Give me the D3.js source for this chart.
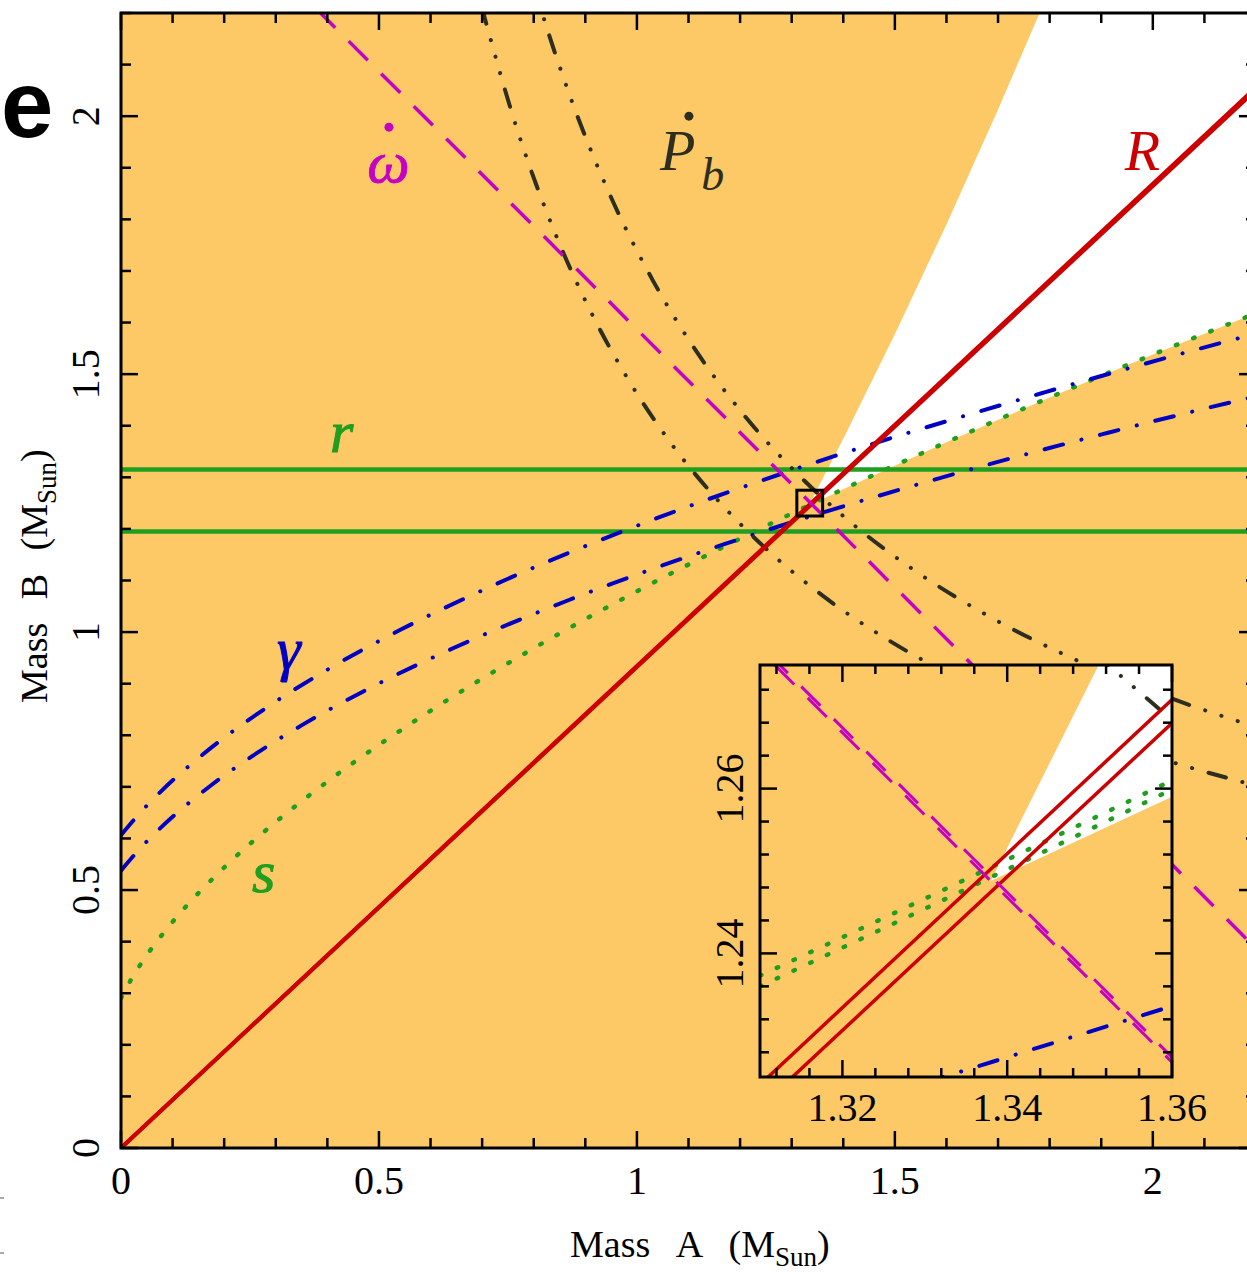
<!DOCTYPE html>
<html>
<head>
<meta charset="utf-8">
<script src="https://cdn.jsdelivr.net/npm/d3@7"></script>
<style>
  body { margin: 0; background: #fff; }
  svg { display: block; background: #fff; }
  text { font-family: "Liberation Serif", "DejaVu Serif", serif; }
  text.panel-letter { font-family: "Liberation Sans", Arial, sans-serif; font-weight: bold; }
</style>
</head>
<body>
<svg id="chart" width="1247" height="1276"></svg>
<script>
// values, masses in solar units (mass A, mass B)
const rLimits = [1.195, 1.315];
const massRatio = [1.0702, 1.0726];
const totalMass = [2.5868, 2.5874];

const gammaHighA = [0, 0.0340, 0.0767, 0.1305, 0.1985, 0.2852, 0.3964, 0.5406, 0.7295, 0.9807, 1.3205, 1.7900, 2.1602, 2.3026];
const gammaHighB = [0.6065, 0.6463, 0.6904, 0.7394, 0.7942, 0.8556, 0.9250, 1.0039, 1.0942, 1.1986, 1.3205, 1.4646, 1.5680, 1.6050];
const gammaLowA = [0, 0.0302, 0.0680, 0.1157, 0.1760, 0.2529, 0.3515, 0.4793, 0.6468, 0.8695, 1.1708, 1.5870, 1.9152, 2.1775, 2.3244];
const gammaLowB = [0.5377, 0.5730, 0.6121, 0.6556, 0.7041, 0.7586, 0.8201, 0.8900, 0.9701, 1.0627, 1.1708, 1.2985, 1.3869, 1.4517, 1.4861];

const shapiroA = [0, 0.005, 0.02, 0.05, 0.1, 0.2, 0.3, 0.4, 0.6, 0.8, 1.0, 1.2, 1.4, 1.6, 1.8, 2.0, 2.2, 2.3, 2.4];
const shapiroB = [0.2906, 0.3000, 0.3272, 0.3738, 0.4383, 0.5437, 0.6319, 0.7101, 0.8475, 0.9687, 1.0791, 1.1810, 1.2771, 1.3679, 1.4547, 1.5379, 1.6180, 1.6570, 1.6952];

const pbdotLowA = [0.6988, 0.7678, 0.8382, 0.9112, 0.9879, 1.0696, 1.1579, 1.2544, 1.3613, 1.4818, 1.6199, 1.7811, 1.9743, 2.2130];
const pbdotLowB = [2.2130, 1.9743, 1.7811, 1.6199, 1.4818, 1.3613, 1.2544, 1.1579, 1.0696, 0.9879, 0.9112, 0.8382, 0.7678, 0.6988];
const pbdotHighA = [0.7404, 0.8152, 0.8719, 0.9496, 1.0308, 1.1167, 1.2088, 1.3089, 1.4191, 1.5421, 1.6818, 1.8434, 2.0345, 2.2039, 2.3332];
const pbdotHighB = [2.4789, 2.2039, 2.0345, 1.8434, 1.6818, 1.5421, 1.4191, 1.3089, 1.2088, 1.1167, 1.0308, 0.9496, 0.8719, 0.8152, 0.7777];

// edge of the white (allowed) wedge, upper-left side
const wedgeEdgeA = [1.3333, 1.4, 1.5, 1.6, 1.7, 1.8];
const wedgeEdgeB = [1.2455, 1.3748, 1.5773, 1.7901, 2.0128, 2.2452];

// inset
const insetShapiroA = [1.31, 1.335, 1.36];
const insetShapiroHighB = [1.2373, 1.2490, 1.2610];
const insetShapiroLowB = [1.2360, 1.2478, 1.2599];
const insetGammaA = [1.33, 1.36];
const insetGammaB = [1.2243, 1.2336];
const insetPbdotA = [1.3490, 1.3620];
const insetPbdotB = [1.2778, 1.2666];
const insetWedgeA = [1.3380, 1.3514, 1.3650, 1.3650, 1.3600];
const insetWedgeB = [1.2488, 1.2756, 1.2756, 1.2590, 1.2590];

const xTickLabels = [0, 0.5, 1, 1.5, 2];
const yTickLabels = [0, 0.5, 1, 1.5, 2];
const insetXTickLabels = [1.32, 1.34, 1.36];
const insetYTickLabels = [1.24, 1.26];

const colours = {
    fill: "#fdc966",
    red: "#cc0000",
    green: "#1f9e1f",
    blue: "#0000c4",
    magenta: "#c400c4",
    dark: "#2e2e20"
};

const styles = {
    r: { stroke: colours.green, width: 4.5 },
    R: { stroke: colours.red, width: 4 },
    omega: { stroke: colours.magenta, width: 3.5, dash: "27,19" },
    gamma: { stroke: colours.blue, width: 4, dash: "19,19,0.1,19", cap: "round" },
    pbdot: { stroke: colours.dark, width: 4, dash: "18,17,0.1,17,0.1,17,0.1,17", cap: "round" },
    s: { stroke: colours.green, width: 4.5, dash: "1.5,17", cap: "round" }
};

const zip = (a, b) => a.map((v, i) => [v, b[i]]);

const svg = d3.select("#chart");
const defs = svg.append("defs");

const plot = { left: 121, right: 1256, top: 13, bottom: 1148 };
const x = d3.scaleLinear().domain([0, 2.2]).range([plot.left, plot.right]);
const y = d3.scaleLinear().domain([0, 2.2]).range([plot.bottom, plot.top]);

const inset = { left: 760, right: 1172, top: 665, bottom: 1077 };
const xi = d3.scaleLinear().domain([1.31, 1.36]).range([inset.left, inset.right]);
const yi = d3.scaleLinear().domain([1.225, 1.275]).range([inset.bottom, inset.top]);

const addClip = (id, box) => defs.append("clipPath").attr("id", id)
    .append("rect")
    .attr("x", box.left).attr("y", box.top)
    .attr("width", box.right - box.left).attr("height", box.bottom - box.top);
addClip("main-clip", plot);
addClip("inset-clip", inset);

const drawPaths = (g, cls, series, gen, style) => {
    g.selectAll("." + cls)
        .data(series)
        .join("path")
        .attr("class", cls)
        .attr("d", gen)
        .attr("fill", "none")
        .attr("stroke", style.stroke)
        .attr("stroke-width", style.width)
        .attr("stroke-dasharray", style.dash || null)
        .attr("stroke-dashoffset", (d, i) => style.offsets ? style.offsets[i] : 0)
        .attr("stroke-linecap", style.cap || "butt");
};

const drawTicks = (g, xs, ys, xVals, yVals, isMajorX, isMajorY, big, small) => {
    const [x0, x1] = xs.range();
    const [y0, y1] = ys.range();
    const tickG = g.append("g").attr("stroke", "#000").attr("stroke-width", 2.5);
    const lenX = d => isMajorX(d) ? big : small;
    const lenY = d => isMajorY(d) ? big : small;
    tickG.selectAll(".tb").data(xVals).join("line")
        .attr("x1", d => xs(d)).attr("x2", d => xs(d))
        .attr("y1", y0).attr("y2", d => y0 - lenX(d));
    tickG.selectAll(".tt").data(xVals).join("line")
        .attr("x1", d => xs(d)).attr("x2", d => xs(d))
        .attr("y1", y1).attr("y2", d => y1 + lenX(d));
    tickG.selectAll(".tl").data(yVals).join("line")
        .attr("y1", d => ys(d)).attr("y2", d => ys(d))
        .attr("x1", x0).attr("x2", d => x0 + lenY(d));
    tickG.selectAll(".tr").data(yVals).join("line")
        .attr("y1", d => ys(d)).attr("y2", d => ys(d))
        .attr("x1", x1).attr("x2", d => x1 - lenY(d));
    g.append("rect")
        .attr("x", x0).attr("y", y1)
        .attr("width", x1 - x0).attr("height", y0 - y1)
        .attr("fill", "none").attr("stroke", "#000").attr("stroke-width", 3);
};

const near = step => d => Math.abs(d / step - Math.round(d / step)) < 1e-6;

// ---------------- main panel ----------------
const setupMain = () => {
    const line = d3.line().x(d => x(d[0])).y(d => y(d[1]));
    const smooth = d3.line().x(d => x(d[0])).y(d => y(d[1])).curve(d3.curveMonotoneX);

    const g = svg.append("g").attr("clip-path", "url(#main-clip)");
    g.append("rect")
        .attr("x", plot.left).attr("y", plot.top)
        .attr("width", plot.right - plot.left).attr("height", plot.bottom - plot.top)
        .attr("fill", colours.fill);

    const lowerEdge = zip(shapiroA, shapiroB).filter(d => d[0] > wedgeEdgeA[0]).reverse();
    const wedge = zip(wedgeEdgeA, wedgeEdgeB).concat([[2.4, 2.4]], lowerEdge);
    g.append("path").attr("d", line(wedge) + "Z").attr("fill", "#fff");

    drawPaths(g, "r-line", rLimits.map(v => [[0, v], [2.4, v]]), line, styles.r);
    drawPaths(g, "s-curve", [zip(shapiroA, shapiroB)], smooth, styles.s);
    drawPaths(g, "gamma-curve", [zip(gammaHighA, gammaHighB), zip(gammaLowA, gammaLowB)], smooth, styles.gamma);
    drawPaths(g, "pbdot-curve", [zip(pbdotLowA, pbdotLowB), zip(pbdotHighA, pbdotHighB)], smooth, styles.pbdot);
    drawPaths(g, "ratio-line", massRatio.map(R => [[0, 0], [2.4, 2.4 / R]]), line, styles.R);
    drawPaths(g, "omega-line", totalMass.slice(0, 1).map(M => [[0, M], [M, 0]]), line, styles.omega);

    // curve labels
    const labels = svg.append("g").attr("font-style", "italic");
    labels.append("text").attr("x", x(0.5184)).attr("y", y(1.872))
        .attr("text-anchor", "middle").attr("font-size", 60).attr("fill", colours.magenta)
        .attr("stroke", colours.magenta).attr("stroke-width", 0.8).text("ω");
    labels.append("circle").attr("cx", x(0.5194)).attr("cy", y(1.9787)).attr("r", 4.5).attr("fill", colours.magenta);

    const pb = labels.append("text").attr("x", x(1.0446)).attr("y", y(1.8953))
        .attr("font-size", 58).attr("fill", colours.dark);
    pb.append("tspan").text("P");
    pb.append("tspan").attr("font-size", 46).attr("dx", 6).attr("dy", 20).text("b");
    labels.append("circle").attr("cx", x(1.1008)).attr("cy", y(2.0)).attr("r", 4.5).attr("fill", colours.dark);

    labels.append("text").attr("x", x(1.9457)).attr("y", y(1.8953))
        .attr("font-size", 58).attr("fill", colours.red).text("R");
    labels.append("text").attr("x", x(0.405)).attr("y", y(1.3488))
        .attr("font-size", 60).attr("fill", colours.green)
        .attr("stroke", colours.green).attr("stroke-width", 1).text("r");
    labels.append("text").attr("x", x(0.3023)).attr("y", y(0.9283))
        .attr("font-size", 60).attr("fill", colours.blue)
        .attr("stroke", colours.blue).attr("stroke-width", 1).text("γ");
    labels.append("text").attr("x", x(0.2539)).attr("y", y(0.4961))
        .attr("font-size", 60).attr("fill", colours.green)
        .attr("stroke", colours.green).attr("stroke-width", 1).text("s");

    // marker for the inset region
    svg.append("rect")
        .attr("x", x(1.31)).attr("y", y(1.275))
        .attr("width", x(1.36) - x(1.31)).attr("height", y(1.225) - y(1.275))
        .attr("fill", "none").attr("stroke", "#000").attr("stroke-width", 3);

    drawTicks(svg.append("g"), x, y,
        d3.range(0, 22.5).map(i => i / 10), d3.range(0, 22.5).map(i => i / 10),
        near(0.5), near(0.5), 17, 10);

    svg.append("g").selectAll(".x-label")
        .data(xTickLabels)
        .join("text")
        .attr("x", d => x(d)).attr("y", 1194)
        .attr("text-anchor", "middle").attr("font-size", 40)
        .text(d => d);

    svg.append("g").selectAll(".y-label")
        .data(yTickLabels)
        .join("text")
        .attr("transform", d => `translate(99,${y(d)}) rotate(-90)`)
        .attr("text-anchor", "middle").attr("font-size", 40)
        .text(d => d);

    const xTitle = svg.append("text").attr("x", 570).attr("y", 1257)
        .attr("font-size", 38).attr("word-spacing", 18);
    xTitle.append("tspan").text("Mass A (M");
    xTitle.append("tspan").attr("font-size", 27).attr("dy", 9).text("Sun");
    xTitle.append("tspan").attr("dy", -9).text(")");

    const yTitle = svg.append("text").attr("transform", "translate(47,703) rotate(-90)")
        .attr("font-size", 38).attr("word-spacing", 14);
    yTitle.append("tspan").text("Mass B (M");
    yTitle.append("tspan").attr("font-size", 27).attr("dy", 9).text("Sun");
    yTitle.append("tspan").attr("dy", -9).text(")");
};

// ---------------- inset ----------------
const setupInset = () => {
    const line = d3.line().x(d => xi(d[0])).y(d => yi(d[1]));
    const smooth = d3.line().x(d => xi(d[0])).y(d => yi(d[1])).curve(d3.curveMonotoneX);

    const g = svg.append("g").attr("clip-path", "url(#inset-clip)");
    g.append("rect")
        .attr("x", inset.left).attr("y", inset.top)
        .attr("width", inset.right - inset.left).attr("height", inset.bottom - inset.top)
        .attr("fill", colours.fill);
    g.append("path").attr("d", line(zip(insetWedgeA, insetWedgeB)) + "Z").attr("fill", "#fff");

    drawPaths(g, "is-curve", [zip(insetShapiroA, insetShapiroHighB), zip(insetShapiroA, insetShapiroLowB)], smooth, styles.s);
    drawPaths(g, "igamma", [zip(insetGammaA, insetGammaB)], line, styles.gamma);
    drawPaths(g, "ipbdot", [zip(insetPbdotA, insetPbdotB)], line, styles.pbdot);
    drawPaths(g, "iratio", massRatio.map(R => [[1.30, 1.30 / R], [1.37, 1.37 / R]]), line, { stroke: colours.red, width: 3.5 });
    drawPaths(g, "iomega", totalMass.map(M => [[1.30, M - 1.30], [1.37, M - 1.37]]), line,
        { stroke: colours.magenta, width: 3, dash: "27,19", offsets: [0, 9] });

    const tickX = d3.range(328, 341).map(i => i * 0.004);
    const tickY = d3.range(307, 319).map(i => i * 0.004);
    drawTicks(svg.append("g"), xi, yi, tickX, tickY, near(0.02), near(0.02), 17, 9);

    svg.append("g").selectAll(".ix-label")
        .data(insetXTickLabels)
        .join("text")
        .attr("x", d => xi(d)).attr("y", 1121)
        .attr("text-anchor", "middle").attr("font-size", 40)
        .text(d => d.toFixed(2));

    svg.append("g").selectAll(".iy-label")
        .data(insetYTickLabels)
        .join("text")
        .attr("transform", d => `translate(743,${yi(d)}) rotate(-90)`)
        .attr("text-anchor", "middle").attr("font-size", 40)
        .text(d => d.toFixed(2));
};

setupMain();
setupInset();

// panel letter and the small marks left by the neighbouring panel
svg.append("text").attr("class", "panel-letter")
    .attr("x", 1).attr("y", 137)
    .attr("font-size", 94).text("e");
svg.append("g").selectAll(".edge-mark")
    .data([1198, 1253])
    .join("line")
    .attr("x1", 0).attr("x2", 4).attr("y1", d => d).attr("y2", d => d)
    .attr("stroke", "#555").attr("stroke-width", 1);
</script>
</body>
</html>
